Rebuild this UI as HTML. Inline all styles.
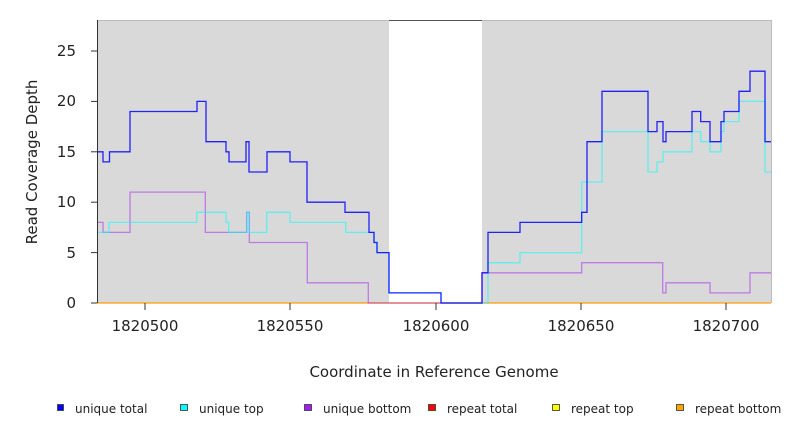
<!DOCTYPE html>
<html><head><meta charset="utf-8"><style>
html,body{margin:0;padding:0;background:#fff;}
svg{display:block;font-family:"DejaVu Sans","Liberation Sans",sans-serif;}
</style></head><body>
<svg width="792" height="432" viewBox="0 0 792 432" xmlns="http://www.w3.org/2000/svg">
<rect x="97" y="20" width="292" height="283" fill="#d9d9d9"/>
<rect x="482" y="20" width="289" height="283" fill="#d9d9d9"/>
<line x1="389" y1="20.5" x2="482" y2="20.5" stroke="#555" stroke-width="1"/>
<line x1="97" y1="20.5" x2="389" y2="20.5" stroke="#bbb" stroke-width="1"/>
<line x1="482" y1="20.5" x2="771" y2="20.5" stroke="#bbb" stroke-width="1"/>
<line x1="771.5" y1="20" x2="771.5" y2="303" stroke="#bbb" stroke-width="1"/>
<g fill="none" stroke-width="1.3">
<path d="M97,303 H771" stroke="#ff9900" stroke-width="1.5" opacity="0.8"/>
<path d="M97,222.4 H103 V232.4 H130 V192.1 H205.3 V232.4 H246.7 V212.3 H249.3 V242.5 H307.3 V282.8 H368.3 V303 H482 V272.8 H581.7 V262.7 H662.7 V292.9 H666 V282.8 H710 V292.9 H750 V272.8 H771" stroke="#a020f0" opacity="0.5"/>
<path d="M97,232.4 H109 V222.4 H196.7 V212.3 H226 V222.4 H228.7 V232.4 H246.7 V212.3 H249.3 V232.4 H266.7 V212.3 H290 V222.4 H345.7 V232.4 H374 V242.5 H377 V252.6 H389 V292.9 H441 V303 H488 V262.7 H520 V252.6 H581.7 V182 H602 V131.6 H648 V172 H657 V161.9 H663 V151.8 H692 V131.6 H700.7 V141.7 H710 V151.8 H721 V131.6 H724 V121.6 H739 V101.4 H765 V172 H771" stroke="#00ffff" opacity="0.55"/>
<path d="M97,151.8 H103 V161.9 H109.5 V151.8 H130 V111.5 H197 V101.4 H206 V141.7 H226 V151.8 H229 V161.9 H246 V141.7 H249 V172 H267 V151.8 H290 V161.9 H307 V202.2 H345 V212.3 H369 V232.4 H374 V242.5 H377 V252.6 H389 V292.9 H441 V303 H482 V272.8 H488 V232.4 H520 V222.4 H581.7 V212.3 H587 V141.7 H602 V91.3 H648 V131.6 H657 V121.6 H663 V141.7 H666 V131.6 H692 V111.5 H700.7 V121.6 H710 V141.7 H721 V121.6 H724 V111.5 H739 V91.3 H750 V71.2 H765 V141.7 H771" stroke="#0000ff" opacity="0.85"/>
</g>
<g stroke="#333" stroke-width="1">
<line x1="97.5" y1="20" x2="97.5" y2="303"/>
<line x1="91" y1="303" x2="97" y2="303"/>
<line x1="91" y1="252.6" x2="97" y2="252.6"/>
<line x1="91" y1="202.2" x2="97" y2="202.2"/>
<line x1="91" y1="151.8" x2="97" y2="151.8"/>
<line x1="91" y1="101.4" x2="97" y2="101.4"/>
<line x1="91" y1="51" x2="97" y2="51"/>
<line x1="145" y1="303" x2="145" y2="310"/>
<line x1="290" y1="303" x2="290" y2="310"/>
<line x1="436" y1="303" x2="436" y2="310"/>
<line x1="581" y1="303" x2="581" y2="310"/>
<line x1="726" y1="303" x2="726" y2="310"/>
</g>
<g font-size="15" fill="#222">
<g text-anchor="end">
<text x="76" y="308">0</text>
<text x="76" y="258">5</text>
<text x="76" y="207">10</text>
<text x="76" y="157">15</text>
<text x="76" y="106">20</text>
<text x="76" y="56">25</text>
</g>
<g text-anchor="middle">
<text x="145" y="331">1820500</text>
<text x="290" y="331">1820550</text>
<text x="436" y="331">1820600</text>
<text x="581" y="331">1820650</text>
<text x="726" y="331">1820700</text>
<text x="434" y="377">Coordinate in Reference Genome</text>
<text transform="translate(37,162) rotate(-90)">Read Coverage Depth</text>
</g>
</g>
<g font-size="12" fill="#222" stroke="#333" stroke-width="0.8">
<rect x="57.5" y="404.5" width="6" height="6" fill="#0000ff"/>
<rect x="180.5" y="404.5" width="7" height="6" fill="#00ffff"/>
<rect x="304.5" y="404.5" width="7" height="6" fill="#a020f0"/>
<rect x="428.5" y="404.5" width="7" height="6" fill="#ff0000"/>
<rect x="552.5" y="404.5" width="7" height="6" fill="#ffff00"/>
<rect x="676.5" y="404.5" width="7" height="6" fill="#ffa500"/>
<g stroke="none">
<text x="75" y="413">unique total</text>
<text x="199" y="413">unique top</text>
<text x="323" y="413">unique bottom</text>
<text x="447" y="413">repeat total</text>
<text x="571" y="413">repeat top</text>
<text x="695" y="413">repeat bottom</text>
</g>
</g>
</svg>
</body></html>
